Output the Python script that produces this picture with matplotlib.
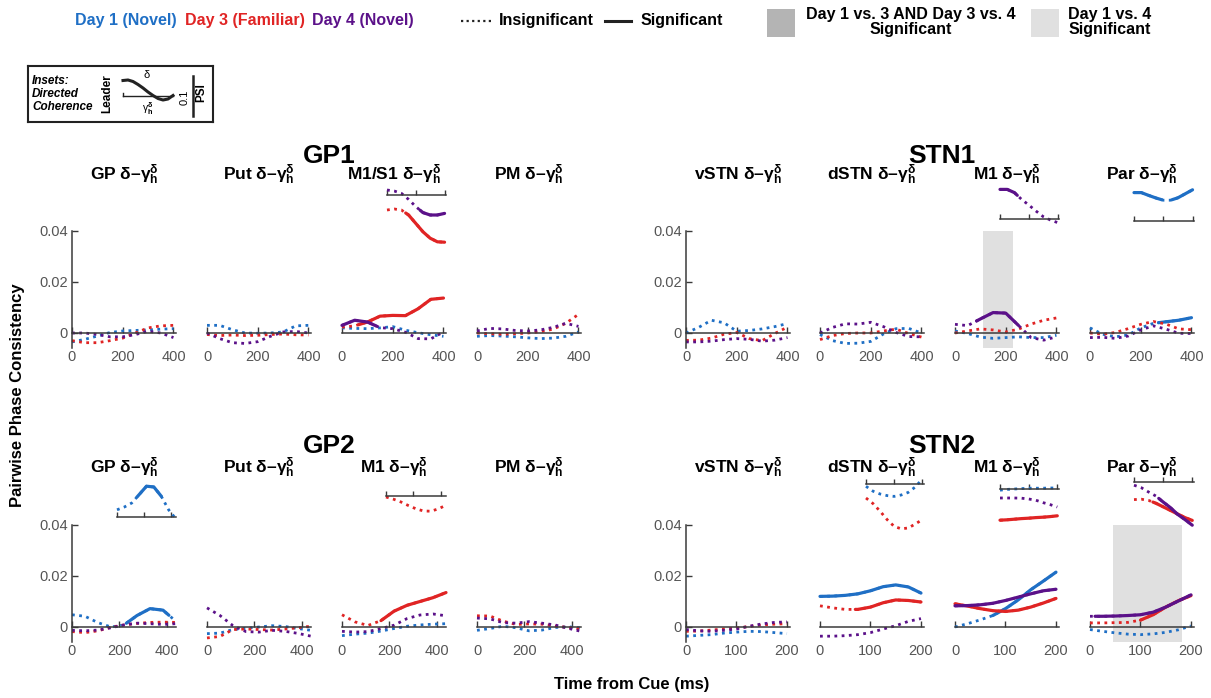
import numpy as np
import matplotlib
matplotlib.use("Agg")
import matplotlib.pyplot as plt
from matplotlib.lines import Line2D
from matplotlib.patches import Rectangle

plt.rcParams['font.family'] = ['Liberation Sans', 'DejaVu Sans']
plt.rcParams['mathtext.fontset'] = 'custom'
plt.rcParams['mathtext.rm'] = 'Liberation Sans:bold'
plt.rcParams['mathtext.it'] = 'Liberation Sans:bold'
plt.rcParams['mathtext.bf'] = 'Liberation Sans:bold'

BLUE, RED, PURPLE = '#1f6fc5', '#e02424', '#5b1189'
DARK_SPAN, LIGHT_SPAN = '#b4b4b4', '#e0e0e0'

# ---------------- time grids (ms) ----------------
T400 = [0, 50, 100, 150, 200, 250, 300, 350, 400]
T440 = [0, 55, 110, 165, 220, 275, 330, 385, 440]
T200 = [0, 25, 50, 75, 100, 125, 150, 175, 200]

# ---------------- GP1 (top row, left) ----------------
gp1_gp_d1 = [-0.0035, -0.0025, -0.0012, 0.0002, 0.0008, 0.0010, 0.0012, 0.0015, 0.0017]
gp1_gp_d3 = [-0.0030, -0.0038, -0.0038, -0.0030, -0.0020, 0.0000, 0.0020, 0.0028, 0.0030]
gp1_gp_d4 = [0.0000, 0.0000, -0.0006, -0.0015, -0.0015, -0.0006, 0.0007, 0.0000, -0.0018]

gp1_put_d1 = [0.0030, 0.0030, 0.0013, 0.0000, -0.0001, 0.0000, 0.0004, 0.0028, 0.0030]
gp1_put_d3 = [-0.0006, -0.0010, -0.0008, -0.0010, -0.0009, -0.0006, -0.0004, -0.0007, -0.0008]
gp1_put_d4 = [0.0000, -0.0022, -0.0038, -0.0041, -0.0034, -0.0013, 0.0004, 0.0006, 0.0000]

gp1_m1_d1 = [0.0020, 0.0018, 0.0017, 0.0020, 0.0025, 0.0011, 0.0001, -0.0007, -0.0013]
gp1_m1_d3 = [0.0023, 0.0028, 0.0043, 0.0066, 0.0069, 0.0068, 0.0095, 0.0132, 0.0137]
gp1_m1_d4 = [0.0030, 0.0050, 0.0043, 0.0021, 0.0017, 0.0003, -0.0022, -0.0023, 0.0004]
gp1_m1_d3_sig = [(65, 400)]
gp1_m1_d4_sig = [(0, 135)]

gp1_pm_d1 = [-0.0013, -0.0010, -0.0012, -0.0015, -0.0019, -0.0022, -0.0020, -0.0013, 0.0004]
gp1_pm_d3 = [0.0000, -0.0003, -0.0005, -0.0003, 0.0000, 0.0005, 0.0015, 0.0038, 0.0073]
gp1_pm_d4 = [0.0008, 0.0018, 0.0016, 0.0010, 0.0008, 0.0012, 0.0022, 0.0038, 0.0026]

# inset (directed coherence, PSI) GP1 M1/S1
gp1_m1_inset_d3 = [-0.0375, -0.035, -0.0375, -0.050, -0.071, -0.092, -0.108, -0.117, -0.118]
gp1_m1_inset_d4 = [0.0125, 0.010, 0.0042, -0.011, -0.029, -0.044, -0.050, -0.050, -0.046]
gp1_m1_inset_d3_sig = [(130, 400)]
gp1_m1_inset_d4_sig = [(230, 400)]

# ---------------- STN1 (top row, right) ----------------
stn1_vstn_d1 = [0.0000, 0.0022, 0.0050, 0.0040, 0.0007, 0.0010, 0.0016, 0.0025, 0.0037]
stn1_vstn_d3 = [-0.0029, -0.0028, -0.0020, -0.0005, 0.0002, -0.0022, -0.0030, -0.0002, 0.0023]
stn1_vstn_d4 = [-0.0035, -0.0035, -0.0032, -0.0026, -0.0022, -0.0025, -0.0032, -0.0028, -0.0018]

stn1_dstn_d1 = [-0.0006, -0.0030, -0.0041, -0.0040, -0.0033, -0.0004, 0.0017, 0.0018, 0.0000]
stn1_dstn_d3 = [-0.0026, -0.0010, -0.0002, 0.0000, 0.0000, 0.0008, 0.0015, -0.0002, -0.0016]
stn1_dstn_d4 = [0.0000, 0.0022, 0.0036, 0.0035, 0.0042, 0.0025, 0.0002, -0.0014, -0.0015]

stn1_m1_d1 = [0.0008, -0.0002, -0.0016, -0.0021, -0.0018, -0.0015, -0.0018, -0.0018, -0.0009]
stn1_m1_d3 = [0.0000, 0.0008, 0.0016, 0.0012, 0.0004, 0.0015, 0.0035, 0.0050, 0.0059]
stn1_m1_d4 = [0.0034, 0.0029, 0.0055, 0.0080, 0.0078, 0.0030, -0.0018, -0.0028, -0.0015]
stn1_m1_d4_sig = [(85, 250)]
stn1_m1_span = (109, 227)          # Day 1 vs. 4 significant

stn1_par_d1 = [0.0020, -0.0005, -0.0015, -0.0008, 0.0020, 0.0038, 0.0044, 0.0050, 0.0060]
stn1_par_d3 = [0.0000, -0.0005, 0.0002, 0.0017, 0.0034, 0.0045, 0.0035, 0.0016, 0.0013]
stn1_par_d4 = [-0.0018, -0.0017, -0.0021, -0.0012, 0.0012, 0.0028, 0.0015, -0.0001, -0.0002]
stn1_par_d1_sig = [(270, 400)]

stn1_m1_inset_d4 = [0.074, 0.074, 0.066, 0.049, 0.035, 0.020, 0.006, -0.0025, -0.009]
stn1_m1_inset_d4_sig = [(0, 120)]
stn1_par_inset_d1 = [0.071, 0.071, 0.064, 0.0575, 0.052, 0.052, 0.058, 0.068, 0.078]
stn1_par_inset_d1_sig = [(0, 190), (260, 400)]

# ---------------- GP2 (bottom row, left) ----------------
gp2_gp_d1 = [0.0048, 0.0042, 0.0017, 0.0000, 0.0008, 0.0045, 0.0072, 0.0066, 0.0022]
gp2_gp_d3 = [-0.0018, -0.0022, -0.0015, -0.0001, 0.0008, 0.0014, 0.0018, 0.0019, 0.0018]
gp2_gp_d4 = [-0.0013, -0.0015, -0.0012, -0.0003, 0.0008, 0.0015, 0.0013, 0.0010, 0.0013]
gp2_gp_d1_sig = [(230, 410)]

gp2_put_d1 = [-0.0026, -0.0024, -0.0010, -0.0005, 0.0000, 0.0005, 0.0002, -0.0006, -0.0013]
gp2_put_d3 = [-0.0043, -0.0037, -0.0010, -0.0008, -0.0010, -0.0012, -0.0008, -0.0003, 0.0003]
gp2_put_d4 = [0.0075, 0.0045, 0.0005, -0.0018, -0.0020, -0.0013, -0.0017, -0.0025, -0.0036]

gp2_m1_d1 = [-0.0034, -0.0028, -0.0024, -0.0016, -0.0006, 0.0003, 0.0008, 0.0011, 0.0013]
gp2_m1_d3 = [0.0048, 0.0020, 0.0006, 0.0025, 0.0062, 0.0085, 0.0100, 0.0115, 0.0135]
gp2_m1_d4 = [-0.0017, -0.0020, -0.0018, -0.0006, 0.0007, 0.0033, 0.0047, 0.0051, 0.0044]
gp2_m1_d3_sig = [(165, 440)]

gp2_pm_d1 = [-0.0013, -0.0006, 0.0003, -0.0003, -0.0015, -0.0012, -0.0002, 0.0001, -0.0004]
gp2_pm_d3 = [0.0044, 0.0043, 0.0023, 0.0010, 0.0012, 0.0011, 0.0004, -0.0002, -0.0008]
gp2_pm_d4 = [0.0035, 0.0032, 0.0017, 0.0015, 0.0021, 0.0015, 0.0008, -0.0005, -0.0017]

gp2_gp_inset_d1 = [0.018, 0.025, 0.035, 0.056, 0.077, 0.075, 0.052, 0.018, -0.005]
gp2_gp_inset_d1_sig = [(150, 330)]
gp2_m1_inset_d3 = [-0.0025, -0.008, -0.015, -0.024, -0.032, -0.0375, -0.038, -0.032, -0.023]

# ---------------- STN2 (bottom row, right) ----------------
stn2_vstn_d1 = [-0.0036, -0.0033, -0.0030, -0.0024, -0.0020, -0.0017, -0.0018, -0.0022, -0.0026]
stn2_vstn_d3 = [-0.0017, -0.0016, -0.0012, -0.0008, -0.0004, 0.0002, 0.0008, 0.0011, 0.0013]
stn2_vstn_d4 = [-0.0010, -0.0015, -0.0017, -0.0013, -0.0008, 0.0003, 0.0012, 0.0018, 0.0020]

stn2_dstn_d1 = [0.0120, 0.0121, 0.0124, 0.0130, 0.0142, 0.0158, 0.0165, 0.0157, 0.0133]
stn2_dstn_d3 = [0.0083, 0.0075, 0.0069, 0.0069, 0.0078, 0.0095, 0.0106, 0.0104, 0.0098]
stn2_dstn_d4 = [-0.0036, -0.0036, -0.0034, -0.0030, -0.0022, -0.0008, 0.0005, 0.0022, 0.0033]
stn2_dstn_d1_sig = [(0, 200)]
stn2_dstn_d3_sig = [(70, 200)]

stn2_m1_d1 = [0.0000, 0.0013, 0.0028, 0.0045, 0.0072, 0.0106, 0.0146, 0.0180, 0.0215]
stn2_m1_d3 = [0.0091, 0.0082, 0.0072, 0.0064, 0.0061, 0.0066, 0.0078, 0.0094, 0.0112]
stn2_m1_d4 = [0.0083, 0.0084, 0.0087, 0.0093, 0.0104, 0.0117, 0.0130, 0.0142, 0.0148]
stn2_m1_d1_sig = [(75, 200)]
stn2_m1_d3_sig = [(0, 200)]
stn2_m1_d4_sig = [(0, 200)]

stn2_par_d1 = [-0.0010, -0.0017, -0.0023, -0.0028, -0.0030, -0.0027, -0.0021, -0.0011, 0.0004]
stn2_par_d3 = [0.0016, 0.0016, 0.0017, 0.0018, 0.0027, 0.0048, 0.0078, 0.0103, 0.0123]
stn2_par_d4 = [0.0042, 0.0042, 0.0043, 0.0045, 0.0048, 0.0058, 0.0078, 0.0102, 0.0126]
stn2_par_d3_sig = [(100, 200)]
stn2_par_d4_sig = [(10, 200)]
stn2_par_span = (45, 182)          # Day 1 vs. 4 significant

stn2_dstn_inset_d1 = [-0.0058, -0.018, -0.025, -0.029, -0.031, -0.0275, -0.021, -0.0075, 0.0125]
stn2_dstn_inset_d3 = [-0.035, -0.049, -0.068, -0.089, -0.106, -0.112, -0.110, -0.100, -0.089]
stn2_m1_inset_d1 = [-0.003, -0.001, 0.000, 0.001, 0.002, 0.002, 0.002, 0.0025, 0.0025]
stn2_m1_inset_d3 = [-0.078, -0.077, -0.0755, -0.074, -0.073, -0.0715, -0.0705, -0.069, -0.067]
stn2_m1_inset_d4 = [-0.0225, -0.0225, -0.0225, -0.023, -0.025, -0.028, -0.034, -0.039, -0.045]
stn2_m1_inset_d3_sig = [(0, 200)]
stn2_par_inset_d3 = [-0.044, -0.043, -0.046, -0.053, -0.062, -0.071, -0.080, -0.089, -0.096]
stn2_par_inset_d4 = [-0.008, -0.0142, -0.025, -0.035, -0.050, -0.064, -0.081, -0.094, -0.108]
stn2_par_inset_d3_sig = [(65, 200)]
stn2_par_inset_d4_sig = [(85, 200)]

TOP_NAMES = ['GP', 'Put', 'M1/S1', 'PM', 'vSTN', 'dSTN', 'M1', 'Par']
BOT_NAMES = ['GP', 'Put', 'M1', 'PM', 'vSTN', 'dSTN', 'M1', 'Par']
GROUP_TITLES = ['GP1', 'STN1', 'GP2', 'STN2']

# legend-box sketch curve (pixel coordinates of the little key drawing)
KEY_CURVE_X = [123, 128, 133, 138, 143, 148, 153, 158, 163, 168, 173]
KEY_CURVE_Y = [80.5, 80.0, 81.5, 84.5, 88.0, 92.0, 95.5, 98.5, 100.0, 99.0, 95.5]

# ---------------- layout ----------------
W, H = 1211, 698
fig = plt.figure(figsize=(W / 100, H / 100), dpi=100)


def fx(px):
    return px / W


def fy(py):
    return 1 - py / H


PANEL_LEFT = [72, 207, 342, 477, 686, 820, 955, 1090]
PANEL_W = 104
ROW_Y = [(229.7, 348.3), (523.7, 642.3)]
YLIM = (-0.006, 0.0405)
AXC = '#3a3a3a'
LBLC = '#555555'


def add_main(col, row, xmax, xticks):
    top, bot = ROW_Y[row]
    ax = fig.add_axes([fx(PANEL_LEFT[col]), fy(bot), PANEL_W / W, (bot - top) / H])
    ax.set_xlim(0, xmax)
    ax.set_ylim(*YLIM)
    ax.patch.set_alpha(0)
    ax.spines['top'].set_visible(False)
    ax.spines['right'].set_visible(False)
    ax.spines['bottom'].set_position(('data', 0))
    ax.spines['bottom'].set_color(AXC)
    ax.spines['bottom'].set_linewidth(1.1)
    ax.set_xticks(xticks)
    ax.tick_params(axis='x', direction='in', length=4, width=1, pad=12,
                   labelsize=10.5, labelcolor=LBLC, color=AXC)
    if col in (0, 4):
        ax.spines['left'].set_bounds(YLIM[0], 0.04)
        ax.spines['left'].set_color(AXC)
        ax.spines['left'].set_linewidth(1.1)
        ax.set_yticks([0, 0.02, 0.04])
        ax.set_yticklabels(['0', '0.02', '0.04'])
        ax.tick_params(axis='y', direction='in', length=4, width=1, pad=3,
                       labelsize=10.5, labelcolor=LBLC, color=AXC)
    else:
        ax.spines['left'].set_visible(False)
        ax.set_yticks([])
    return ax


def add_inset(col, left_px, line_py, xmax, xticks):
    right = PANEL_LEFT[col] + PANEL_W
    hh = 60
    ax = fig.add_axes([fx(left_px), fy(line_py + hh), (right - left_px) / W, 2 * hh / H])
    ax.set_xlim(0, xmax)
    ax.set_ylim(-0.15, 0.15)
    ax.patch.set_alpha(0)
    for s in ['top', 'right', 'left']:
        ax.spines[s].set_visible(False)
    ax.spines['bottom'].set_position(('data', 0))
    ax.spines['bottom'].set_color(AXC)
    ax.spines['bottom'].set_linewidth(1.1)
    ax.set_xticks(xticks)
    ax.set_yticks([])
    ax.tick_params(axis='x', direction='in', length=3.5, width=1, labelbottom=False, color=AXC)
    return ax


def draw(ax, t, y, color, sig=()):
    t = np.asarray(t, float)
    y = np.asarray(y, float)
    ax.plot(t, y, color=color, lw=2.0, linestyle=(0, (1, 1.6)),
            dash_capstyle='butt', clip_on=False)
    for a, b in sig:
        m = (t > a) & (t < b)
        ts = np.concatenate([[a], t[m], [b]])
        ys = np.interp(ts, t, y)
        ax.plot(ts, ys, color=color, lw=2.3, solid_capstyle='round', clip_on=False)


def span(ax, rng, color):
    ymax = (0.04 - YLIM[0]) / (YLIM[1] - YLIM[0])
    ax.axvspan(rng[0], rng[1], ymin=0, ymax=ymax, color=color, lw=0, zorder=0)


# ---------------- top row ----------------
XT400 = [0, 200, 400]
axs_top = [add_main(c, 0, 410, XT400) for c in range(8)]
top_data = [
    (gp1_gp_d1, gp1_gp_d3, gp1_gp_d4, (), (), ()),
    (gp1_put_d1, gp1_put_d3, gp1_put_d4, (), (), ()),
    (gp1_m1_d1, gp1_m1_d3, gp1_m1_d4, (), gp1_m1_d3_sig, gp1_m1_d4_sig),
    (gp1_pm_d1, gp1_pm_d3, gp1_pm_d4, (), (), ()),
    (stn1_vstn_d1, stn1_vstn_d3, stn1_vstn_d4, (), (), ()),
    (stn1_dstn_d1, stn1_dstn_d3, stn1_dstn_d4, (), (), ()),
    (stn1_m1_d1, stn1_m1_d3, stn1_m1_d4, (), (), stn1_m1_d4_sig),
    (stn1_par_d1, stn1_par_d3, stn1_par_d4, stn1_par_d1_sig, (), ()),
]
span(axs_top[6], stn1_m1_span, LIGHT_SPAN)
for ax, (d1, d3, d4, s1, s3, s4) in zip(axs_top, top_data):
    draw(ax, T400, d1, BLUE, s1)
    draw(ax, T400, d3, RED, s3)
    draw(ax, T400, d4, PURPLE, s4)

ai = add_inset(2, 387, 195, 410, XT400)
draw(ai, T400, gp1_m1_inset_d3, RED, gp1_m1_inset_d3_sig)
draw(ai, T400, gp1_m1_inset_d4, PURPLE, gp1_m1_inset_d4_sig)
ai = add_inset(6, 1000, 219, 410, XT400)
draw(ai, T400, stn1_m1_inset_d4, PURPLE, stn1_m1_inset_d4_sig)
ai = add_inset(7, 1134, 221, 410, XT400)
draw(ai, T400, stn1_par_inset_d1, BLUE, stn1_par_inset_d1_sig)

# ---------------- bottom row ----------------
XT440 = [0, 200, 400]
XT200 = [0, 100, 200]
axs_bot = [add_main(c, 1, 440, XT440) for c in range(4)] + \
          [add_main(c, 1, 206, XT200) for c in range(4, 8)]
bot_data = [
    (T440, gp2_gp_d1, gp2_gp_d3, gp2_gp_d4, gp2_gp_d1_sig, (), ()),
    (T440, gp2_put_d1, gp2_put_d3, gp2_put_d4, (), (), ()),
    (T440, gp2_m1_d1, gp2_m1_d3, gp2_m1_d4, (), gp2_m1_d3_sig, ()),
    (T440, gp2_pm_d1, gp2_pm_d3, gp2_pm_d4, (), (), ()),
    (T200, stn2_vstn_d1, stn2_vstn_d3, stn2_vstn_d4, (), (), ()),
    (T200, stn2_dstn_d1, stn2_dstn_d3, stn2_dstn_d4, stn2_dstn_d1_sig, stn2_dstn_d3_sig, ()),
    (T200, stn2_m1_d1, stn2_m1_d3, stn2_m1_d4, stn2_m1_d1_sig, stn2_m1_d3_sig, stn2_m1_d4_sig),
    (T200, stn2_par_d1, stn2_par_d3, stn2_par_d4, (), stn2_par_d3_sig, stn2_par_d4_sig),
]
span(axs_bot[7], stn2_par_span, LIGHT_SPAN)
for ax, (t, d1, d3, d4, s1, s3, s4) in zip(axs_bot, bot_data):
    draw(ax, t, d1, BLUE, s1)
    draw(ax, t, d3, RED, s3)
    draw(ax, t, d4, PURPLE, s4)

ai = add_inset(0, 117, 517, 440, XT440)
draw(ai, T440, gp2_gp_inset_d1, BLUE, gp2_gp_inset_d1_sig)
ai = add_inset(2, 386, 496, 440, XT440)
draw(ai, T440, gp2_m1_inset_d3, RED)
ai = add_inset(5, 866, 484, 206, XT200)
draw(ai, T200, stn2_dstn_inset_d1, BLUE)
draw(ai, T200, stn2_dstn_inset_d3, RED)
ai = add_inset(6, 1000, 489, 206, XT200)
draw(ai, T200, stn2_m1_inset_d1, BLUE)
draw(ai, T200, stn2_m1_inset_d4, PURPLE)
draw(ai, T200, stn2_m1_inset_d3, RED, stn2_m1_inset_d3_sig)
ai = add_inset(7, 1134, 482, 206, XT200)
draw(ai, T200, stn2_par_inset_d3, RED, stn2_par_inset_d3_sig)
draw(ai, T200, stn2_par_inset_d4, PURPLE, stn2_par_inset_d4_sig)

# ---------------- titles ----------------
SUFFIX = ' δ–γ' + r'${}_{h}^{\delta}$'
for c in range(8):
    cx = PANEL_LEFT[c] + PANEL_W / 2
    fig.text(fx(cx), fy(175), TOP_NAMES[c] + SUFFIX, ha='center', va='center',
             fontsize=12.5, weight='bold')
    fig.text(fx(cx), fy(468), BOT_NAMES[c] + SUFFIX, ha='center', va='center',
             fontsize=12.5, weight='bold')
for title, (cx, cy) in zip(GROUP_TITLES, [(329, 156), (942, 156), (329, 446), (942, 446)]):
    fig.text(fx(cx), fy(cy), title, ha='center', va='center', fontsize=19, weight='bold')

fig.text(fx(18), fy(395), 'Pairwise Phase Consistency', rotation=90, ha='center',
         va='center', fontsize=12, weight='bold')
fig.text(fx(632), fy(685), 'Time from Cue (ms)', ha='center', va='center',
         fontsize=12, weight='bold')

# ---------------- top legend ----------------
LY = 20
fig.text(fx(75), fy(LY), 'Day 1 (Novel)', color=BLUE, fontsize=11.5, weight='bold', va='center')
fig.text(fx(185), fy(LY), 'Day 3 (Familiar)', color=RED, fontsize=11.5, weight='bold', va='center')
fig.text(fx(312), fy(LY), 'Day 4 (Novel)', color=PURPLE, fontsize=11.5, weight='bold', va='center')
fig.add_artist(Line2D([fx(461), fx(491)], [fy(LY + 1), fy(LY + 1)], color='#222222', lw=1.6,
                      linestyle=(0, (1, 1.5)), transform=fig.transFigure))
fig.text(fx(499), fy(LY), 'Insignificant', fontsize=11.5, weight='bold', va='center')
fig.add_artist(Line2D([fx(605), fx(631)], [fy(LY + 1), fy(LY + 1)], color='#222222', lw=2.2,
                      transform=fig.transFigure))
fig.text(fx(641), fy(LY), 'Significant', fontsize=11.5, weight='bold', va='center')

fig.add_artist(Rectangle((fx(767), fy(37)), 28 / W, 28 / H, transform=fig.transFigure,
                         facecolor=DARK_SPAN, edgecolor='none'))
fig.text(fx(911), fy(22), 'Day 1 vs. 3 AND Day 3 vs. 4\nSignificant', ha='center', va='center',
         fontsize=11.5, weight='bold', linespacing=1.05)
fig.add_artist(Rectangle((fx(1031), fy(37)), 28 / W, 28 / H, transform=fig.transFigure,
                         facecolor=LIGHT_SPAN, edgecolor='none'))
fig.text(fx(1110), fy(22), 'Day 1 vs. 4\nSignificant', ha='center', va='center',
         fontsize=11.5, weight='bold', linespacing=1.05)

# ---------------- inset key box ----------------
kb = fig.add_axes([fx(28), fy(122), 185 / W, 56 / H])
kb.set_xlim(28, 213)
kb.set_ylim(122, 66)
kb.set_xticks([])
kb.set_yticks([])
for s in kb.spines.values():
    s.set_linewidth(1.5)
    s.set_color('#222222')
kb.text(32, 80.5, 'Insets:', fontsize=8.5, style='italic', weight='bold', va='center')
kb.text(32, 94, 'Directed', fontsize=8.5, style='italic', weight='bold', va='center')
kb.text(32, 107.5, 'Coherence', fontsize=8.5, style='italic', weight='bold', va='center')
kb.text(107, 94, 'Leader', rotation=90, fontsize=8.5, weight='bold', ha='center', va='center')
kb.plot([123, 173], [95.5, 95.5], color='#222222', lw=1.0)
kb.plot([123, 123], [95.5, 92.5], color='#222222', lw=1.0)
kb.plot(KEY_CURVE_X, KEY_CURVE_Y, color='#222222', lw=2.2)
kb.text(147, 75, 'δ', fontsize=8, ha='center', va='center')
kb.text(148, 109, 'γ' + r'${}_{h}^{\delta}$', fontsize=7.5, ha='center', va='center')
kb.text(185, 97, '0.1', rotation=90, fontsize=8, ha='center', va='center')
kb.plot([193, 193], [76, 116], color='#222222', lw=1.8)
kb.text(201, 93, 'PSI', rotation=90, fontsize=8.5, weight='bold', ha='center', va='center')

fig.savefig('out.png', dpi=100)
